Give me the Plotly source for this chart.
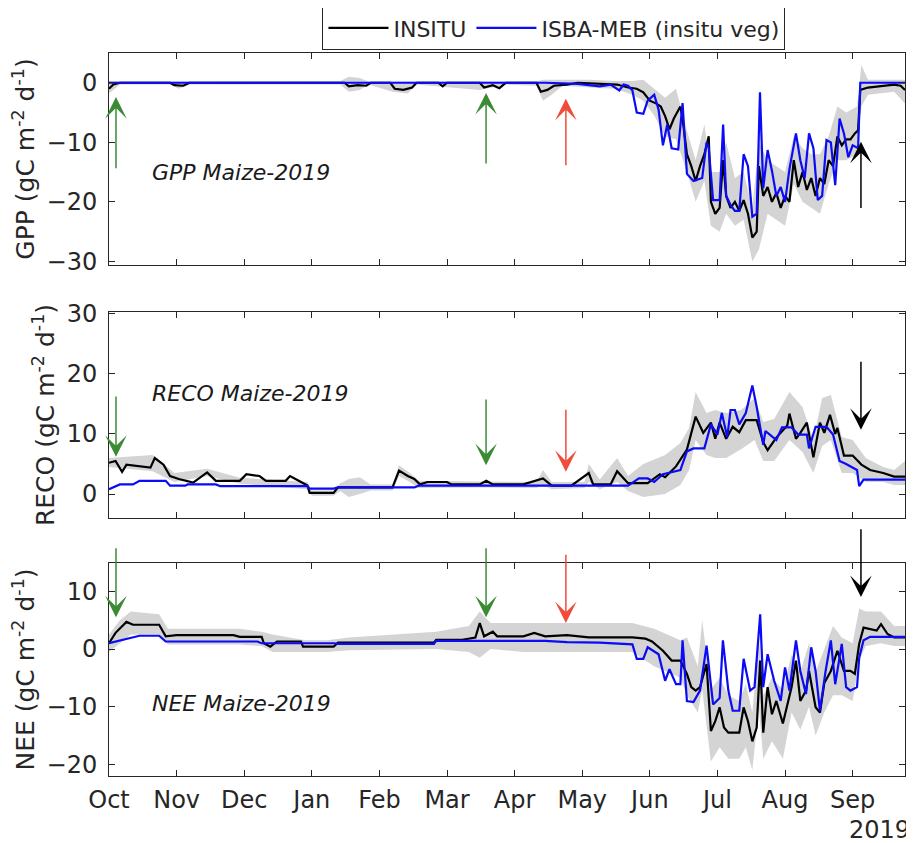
import plotly.graph_objects as go
from plotly.subplots import make_subplots

# x axis: days since 1 Oct 2018, ticks every 31 days (as in the original figure)
month_ticks = [0, 31, 62, 93, 124, 155, 186, 217, 248, 279, 310, 341]
month_labels = ['Oct', 'Nov', 'Dec', 'Jan', 'Feb', 'Mar', 'Apr', 'May', 'Jun', 'Jul', 'Aug', 'Sep']

# ---------------- GPP ----------------
gpp_obs_days = [0, 2, 5, 28, 30, 34, 37, 108, 110, 114, 118, 120, 129, 131, 135, 139, 141, 151, 153, 155,
                170, 172, 176, 179, 182, 196, 198, 201, 204, 210, 215, 225, 233, 238, 242, 245, 248, 251,
                253, 255, 257, 259, 262, 263, 265, 267, 269, 271, 273, 275, 276, 278, 280, 281.6, 283, 285,
                287, 289, 291, 293, 295, 297, 298, 300, 302, 304, 306, 308, 310, 312, 314, 316, 318, 320,
                322, 324, 326, 328, 330, 332, 334, 336, 338, 340, 342, 343.5, 344.5, 348, 355, 360, 363, 365]
gpp_obs = [-1.0, -0.3, 0, 0, -0.4, -0.5, 0, 0, -0.6, -0.4, -0.5, 0, 0, -1.0, -1.2, -0.8, 0, 0, -0.6, 0,
           0, -0.8, -0.4, -0.9, 0, 0, -1.5, -1.2, -0.5, -0.3, 0, -0.2, -0.3, -0.8, -1.0, -1.6, -3.0, -3.5,
           -4.0, -5.6, -7.8, -6.0, -4.0, -6.0, -12.0, -14.0, -16.5, -14.0, -12.0, -9.0, -20.0, -22.0, -21.0, -13.0, -19.0, -21.0,
           -20.0, -21.5, -19.7, -22.0, -26.0, -25.0, -14.0, -19.0, -17.5, -20.0, -18.5, -21.0, -19.0, -20.0, -13.0, -17.5, -15.0, -18.0,
           -16.0, -19.0, -16.0, -17.0, -13.0, -14.0, -9.0, -10.5, -9.5, -9.5, -8.5, -8.0, -1.2, -0.8, -0.5, -0.3, -0.5, -1.2]
gpp_mod_days = [0, 200, 215, 225, 230, 234, 236, 238, 240, 242, 245, 247, 250, 252, 254, 256, 258, 261, 263, 265,
                268, 272, 274, 275, 277, 280, 281.6, 283, 285, 287, 289, 291, 293, 295, 297, 298.5, 300, 302,
                304, 306, 308, 310, 312, 315, 317, 319, 321, 323, 325, 327, 329, 331, 333, 335, 337, 339, 341,
                343.5, 344.5, 365]
gpp_mod = [0, 0, -0.2, -0.6, -0.3, -1.3, -0.3, -0.5, -1.3, -5.0, -5.2, -3.0, -2.0, -4.5, -10.5, -7.0, -11.0, -11.2, -3.4, -15.3,
           -16.5, -16.0, -10.0, -11.0, -19.7, -19.7, -7.0, -19.0, -20.5, -21.5, -21.5, -12.0, -14.0, -22.5, -22.0, -1.6, -17.7, -11.3,
           -14.8, -19.0, -17.5, -20.0, -14.5, -8.5, -13.0, -16.0, -8.5, -11.0, -19.7, -19.0, -9.6, -10.0, -17.2, -6.0, -8.5, -12.5, -10.5,
           -11.0, 0, 0]
gpp_band_days = [0, 5, 28, 32, 37, 106, 110, 115, 119, 130, 137, 141, 170, 182, 196, 199, 203, 208, 220, 232,
                 240, 245, 250, 255, 260, 265, 269, 273, 276, 280, 283, 287, 291, 295, 298, 302, 306, 310, 314,
                 318, 322, 326, 330, 334, 338, 343, 345, 348, 360, 365]
gpp_band_lo = [-1.8, -0.3, -0.3, -1.0, -0.3, -0.3, -1.5, -1.2, -0.3, -1.5, -1.8, -0.3, -1.2, -0.3, -0.5, -3.0, -2.0, -0.5, -0.8, -1.0,
               -2.0, -3.0, -5.5, -9.0, -9.5, -15.0, -20.0, -16.5, -24.0, -25.0, -22.0, -24.0, -23.0, -30.0, -28.0, -22.0, -23.0, -24.0, -17.0,
               -20.0, -21.0, -22.0, -17.0, -13.0, -13.0, -12.0, -4.0, -2.0, -1.5, -3.5]
gpp_band_hi = [0.3, 0.2, 0.2, 0.2, 0.2, 0.3, 1.0, 0.8, 0.2, 0.2, 0.2, 0.2, 0.3, 0.2, 0.2, 0.5, 0.5, 0.5, 0.5, 0.3,
               0.3, 0.5, -1.0, -2.5, -1.0, -8.0, -13.0, -7.0, -15.0, -15.0, -10.0, -16.0, -15.0, -21.0, -10.0, -13.0, -14.0, -15.0, -9.0,
               -11.0, -12.0, -12.0, -9.0, -4.0, -5.0, -4.0, 3.0, 0.5, 0.5, 0.5]

# ---------------- RECO ----------------
reco_obs_days = [0, 3, 6, 8, 19, 21, 25, 28, 32, 38.6, 45, 49, 60, 63, 69, 72, 81, 83, 87, 91, 92, 103, 105, 130,
                 133, 137, 140, 142.6, 146, 155, 157, 170, 173, 176, 190, 199, 203, 212, 220, 222, 230, 233, 238,
                 247, 252.6, 255, 260, 265, 269, 272.5, 276, 278, 280, 283, 286, 289, 292, 297, 300, 302, 306,
                 311, 312, 315, 317, 320, 323, 326, 328, 330.6, 333, 334, 337, 341, 345, 349, 355, 360, 365]
reco_obs = [5.2, 5.5, 3.7, 4.9, 4.4, 6.0, 4.9, 3.0, 2.5, 1.9, 3.6, 2.2, 2.2, 3.3, 3.0, 2.2, 2.2, 3.0, 2.2, 1.4, 0.2, 0.2, 1.1, 1.1,
            3.9, 3.0, 2.5, 1.6, 2.0, 2.0, 1.6, 1.6, 2.2, 1.6, 1.6, 2.6, 1.4, 1.4, 3.5, 1.6, 1.6, 3.8, 1.8,
            1.8, 3.3, 2.8, 4.6, 7.4, 12.9, 10.2, 11.9, 9.2, 11.9, 9.2, 11.2, 10.3, 12.3, 12.3, 8.6, 7.3, 9.4,
            11.4, 13.4, 9.2, 10.2, 11.9, 6.1, 11.9, 10.2, 13.2, 10.0, 11.0, 6.4, 6.4, 4.9, 4.0, 3.5, 2.9, 2.9]
reco_mod_days = [0, 5, 11, 14, 26, 28, 35, 36, 49, 51, 91, 92, 103, 105, 140, 142, 224, 238, 243, 247, 250, 254,
                 262, 265, 268, 273, 276, 279, 281, 283.5, 285, 287, 289, 292, 295, 297, 300, 301, 303, 306,
                 308.6, 313, 316, 320, 321, 324, 329, 332, 335, 338, 343, 344, 346, 365]
reco_mod = [0.8, 1.6, 1.6, 2.2, 2.2, 1.4, 1.4, 1.6, 1.6, 1.3, 1.3, 0.9, 0.9, 1.1, 1.1, 1.4, 1.4, 1.4, 2.6, 2.6, 2.0, 3.3,
            4.0, 7.1, 7.6, 7.6, 11.6, 9.9, 13.5, 9.5, 14.0, 14.0, 11.6, 13.5, 18.1, 14.5, 8.2, 10.5, 9.9, 9.0,
            11.1, 11.1, 9.9, 9.9, 7.6, 11.2, 11.2, 9.9, 5.5, 5.0, 4.0, 1.3, 2.4, 2.4]
reco_band_days = [0, 20, 30, 45, 60, 91, 93, 103, 106, 110, 115, 120, 130, 133, 138, 142, 170, 196, 199, 203,
                  218, 220, 225, 233, 238, 245, 255, 262, 266, 269, 274, 278, 283, 290, 296, 300, 305, 312,
                  318, 323, 327, 331, 336, 341, 347, 355, 360, 365]
reco_band_lo = [4.5, 3.8, 2.0, 3.0, 1.7, 0.8, -0.3, -0.3, 0.5, -0.5, 0.0, 0.6, 0.6, 3.0, 2.0, 1.0, 1.1, 1.0, 1.5, 0.8,
                1.0, 2.0, 0.8, 2.0, 0.5, -0.5, 0.0, 1.5, 4.0, 9.0, 6.5, 6.0, 6.0, 7.5, 9.0, 5.5, 5.5, 9.0,
                7.0, 3.5, 8.0, 9.0, 3.5, 3.5, 2.0, 2.0, 1.5, 1.5]
reco_band_hi = [6.0, 6.5, 3.5, 4.2, 2.7, 2.0, 0.6, 0.6, 1.8, 2.5, 2.8, 1.6, 1.6, 4.8, 3.5, 2.2, 2.1, 2.0, 4.0, 2.0,
                2.0, 5.0, 2.4, 6.0, 3.0, 5.0, 6.5, 8.5, 11.0, 17.0, 13.5, 14.0, 13.5, 14.0, 16.0, 12.0, 12.5, 17.0,
                14.5, 9.0, 16.0, 16.5, 9.5, 9.0, 6.0, 4.5, 4.0, 5.5]

# ---------------- NEE ----------------
nee_obs_days = [0, 3, 8, 11, 23, 26, 31, 57, 60, 70, 71, 74, 77, 88, 89, 103, 105, 149, 150, 162, 168, 170, 172,
                176, 178, 190, 195, 200, 210, 220, 230, 240, 246, 249, 254, 258, 262, 265, 267, 269, 271, 274,
                276, 278, 280, 282, 284, 289, 291, 293, 295, 297, 298.6, 300, 302, 304, 306, 309, 313, 315, 317,
                319.6, 321, 324, 326, 328, 331, 334, 337, 340, 342, 344, 346, 352, 354, 357, 360, 365]
nee_obs = [1.0, 2.8, 4.7, 4.2, 4.2, 2.2, 2.4, 2.4, 2.1, 2.1, 1.0, 0.4, 1.3, 1.3, 0.4, 0.4, 1.1, 1.1, 1.6, 1.6, 2.0, 4.5, 2.2,
           3.0, 2.2, 2.2, 2.8, 2.2, 2.4, 2.0, 2.0, 2.0, 1.8, 1.3, -0.3, -2.0, -2.0, -4.3, -6.6, -7.2, -6.6, -2.6,
           -14.2, -12.5, -10.1, -13.6, -14.5, -14.5, -10.1, -12.5, -16.0, -13.6, -2.0, -14.5, -6.6, -11.3, -9.0, -12.9, -6.6, -2.0, -9.0,
           -7.2, -3.8, -10.1, -11.0, -5.9, -3.8, -0.3, -3.8, -3.8, -4.3, 0.9, 3.7, 3.2, 4.3, 2.6, 2.0, 2.0]
nee_mod_days = [0, 6, 14, 23, 26, 68, 70, 103, 105, 149, 150, 200, 210, 225, 240, 242, 245, 247, 252, 255, 257,
                260, 262, 263, 265, 268, 271, 274, 277, 280, 281.5, 284, 286, 289, 291, 294, 296, 298.6, 300,
                302, 305, 308, 310, 312, 315, 317, 319.6, 322, 324, 326, 328.6, 331, 333, 336, 338, 340, 343,
                344, 346, 349, 365]
nee_mod = [1.0, 1.6, 2.3, 2.3, 1.3, 1.3, 1.0, 1.0, 0.9, 0.9, 1.4, 1.4, 1.2, 1.1, 0.8, -1.7, -1.7, 0.3, -0.9, -5.5, -3.5,
           -6.1, -6.1, 1.5, -9.0, -9.2, -7.2, 0.6, -9.6, -8.5, 1.5, -7.2, -10.7, -10.7, -1.7, -7.2, -6.6, 6.0, -6.6,
           -0.9, -5.5, -9.0, -3.2, -7.2, 1.5, -3.8, -7.8, 0.3, -3.8, -10.7, -3.8, 1.5, -6.1, 0.9, -6.6, -7.2, -6.6,
           -1.5, 1.5, 2.1, 2.1]
nee_band_days = [0, 5, 10, 23, 27, 60, 70, 75, 90, 100, 110, 150, 165, 170, 175, 190, 210, 230, 240, 250, 256,
                 262, 265, 270, 272, 276, 280, 284, 289, 292, 295, 298, 300, 304, 309, 313, 317, 321, 324, 328,
                 332, 336, 341, 344, 347, 354, 360, 365]
nee_band_lo = [-0.5, 1.0, 2.5, 2.5, 0.8, 0.8, 0.5, -0.5, -0.5, -0.5, -0.2, 0.0, -0.5, -1.5, 0.0, -0.5, -0.5, -0.5, -0.5, -3.0, -4.0,
               -5.0, -8.0, -11.0, -7.0, -19.5, -17.0, -19.0, -19.0, -17.0, -21.0, -10.0, -19.0, -16.0, -19.0, -11.0, -14.0, -10.0, -15.0, -11.0,
               -8.0, -8.0, -9.0, -2.0, 0.5, 1.0, 0.5, 0.5]
nee_band_hi = [2.5, 5.0, 6.5, 6.0, 3.5, 3.5, 3.0, 2.5, 1.5, 1.5, 2.0, 3.0, 4.0, 6.5, 4.5, 4.5, 4.5, 4.5, 4.5, 3.5, 2.5,
               1.5, 2.0, -3.0, 5.0, -7.0, -5.0, -8.0, -9.0, -6.0, -11.0, 2.0, -8.0, -5.0, -7.0, -1.0, -4.0, 1.0, -4.0, 0.0,
               4.0, 2.0, 1.0, 7.0, 6.5, 6.5, 4.0, 4.0]

# management events (day, colour) shown as arrows
event_days = [3.2, 172.9, 209.5, 344.8]
event_colors = ['#3b8b35', '#3b8b35', '#f04c3a', 'black']

FONT = 'DejaVu Sans'
AXCOL = '#262626'

panels = [
    dict(obs_x=gpp_obs_days, obs=gpp_obs, mod_x=gpp_mod_days, mod=gpp_mod,
         band_x=gpp_band_days, lo=gpp_band_lo, hi=gpp_band_hi,
         yrange=[-30.6, 5.0], ticks=[-30, -20, -10, 0], title='GPP (gC m<sup>-2</sup> d<sup>-1</sup>)',
         label='GPP Maize-2019', label_y=-15.0,
         arrows=[(-2.4, -14.6), (-1.7, -13.8), (-2.7, -14.1), (-9.9, -21.3)],
         domain=[0.7068, 1.0]),
    dict(obs_x=reco_obs_days, obs=reco_obs, mod_x=reco_mod_days, mod=reco_mod,
         band_x=reco_band_days, lo=reco_band_lo, hi=reco_band_hi,
         yrange=[-4.0, 30.33], ticks=[0, 10, 20, 30], title='RECO (gC m<sup>-2</sup> d<sup>-1</sup>)',
         label='RECO Maize-2019', label_y=16.8,
         arrows=[(6.2, 16.5), (4.8, 16.0), (3.7, 14.3), (10.7, 22.3)],
         domain=[0.3568, 0.6418]),
    dict(obs_x=nee_obs_days, obs=nee_obs, mod_x=nee_mod_days, mod=nee_mod,
         band_x=nee_band_days, lo=nee_band_lo, hi=nee_band_hi,
         yrange=[-22.0, 14.9], ticks=[-20, -10, 0, 10], title='NEE (gC m<sup>-2</sup> d<sup>-1</sup>)',
         label='NEE Maize-2019', label_y=-9.5,
         arrows=[(5.5, 17.7), (5.5, 17.7), (4.5, 16.6), (9.0, 21.0)],
         domain=[0.0, 0.2946]),
]

fig = make_subplots(rows=3, cols=1)

for i, p in enumerate(panels):
    r = i + 1
    fig.add_trace(go.Scatter(x=p['band_x'], y=p['lo'], mode='lines', line=dict(width=0),
                             showlegend=False, hoverinfo='skip'), row=r, col=1)
    fig.add_trace(go.Scatter(x=p['band_x'], y=p['hi'], mode='lines', line=dict(width=0),
                             fill='tonexty', fillcolor='#d4d4d4', showlegend=False, hoverinfo='skip'), row=r, col=1)
    fig.add_trace(go.Scatter(x=p['obs_x'], y=p['obs'], mode='lines', name='INSITU',
                             line=dict(color='black', width=2.2), showlegend=(i == 0)), row=r, col=1)
    fig.add_trace(go.Scatter(x=p['mod_x'], y=p['mod'], mode='lines', name='ISBA-MEB (insitu veg)',
                             line=dict(color='#0b0bf5', width=2.2), showlegend=(i == 0)), row=r, col=1)

    xa = 'x' if i == 0 else f'x{r}'
    ya = 'y' if i == 0 else f'y{r}'
    fig.update_yaxes(range=p['yrange'], tickvals=p['ticks'], domain=p['domain'],
                     title_text=p['title'], row=r, col=1)
    fig.update_xaxes(showticklabels=(r == 3), row=r, col=1)

    fig.add_annotation(x=19, y=p['label_y'], xref=xa, yref=ya, text='<i>' + p['label'] + '</i>',
                       showarrow=False, xanchor='left', font=dict(family=FONT, size=22, color='#1a1a1a'))

    for d, c, (tip, tail) in zip(event_days, event_colors, p['arrows']):
        fig.add_annotation(x=d, y=tip, ax=d, ay=tail, xref=xa, yref=ya, axref=xa, ayref=ya,
                           text='', showarrow=True, arrowhead=3, arrowsize=2.4, arrowwidth=1.5,
                           arrowcolor=c)

fig.update_xaxes(range=[0, 365], tickvals=month_ticks, ticktext=month_labels, ticks='inside', ticklen=6,
                 showline=True, linecolor=AXCOL, linewidth=1, mirror='ticks', showgrid=False, zeroline=False,
                 tickfont=dict(family=FONT, size=24, color=AXCOL), tickcolor=AXCOL, ticklabelstandoff=2)
fig.update_yaxes(ticks='inside', ticklen=6, showline=True, linecolor=AXCOL, linewidth=1, mirror='ticks',
                 showgrid=False, zeroline=False, tickfont=dict(family=FONT, size=24, color=AXCOL),
                 tickcolor=AXCOL, ticklabelstandoff=6,
                 title_font=dict(family=FONT, size=25, color=AXCOL), title_standoff=4)

fig.add_annotation(x=1.009, y=-0.075, xref='paper', yref='paper', text='2019', showarrow=False,
                   xanchor='right', yanchor='middle', font=dict(family=FONT, size=24, color=AXCOL))

# the page body adds an 8 px offset, so the figure is 8 px smaller and margins shifted
fig.update_layout(
    width=906, height=835,
    margin=dict(l=101, r=9, t=45, b=67, autoexpand=False),
    plot_bgcolor='white', paper_bgcolor='white',
    font=dict(family=FONT, color=AXCOL),
    legend=dict(orientation='h', x=0.559, xanchor='center', y=1.004, yanchor='bottom',
                bordercolor=AXCOL, borderwidth=1, bgcolor='white', traceorder='normal',
                font=dict(family=FONT, size=22, color=AXCOL), itemwidth=60),
)

fig.write_html("out.html")
